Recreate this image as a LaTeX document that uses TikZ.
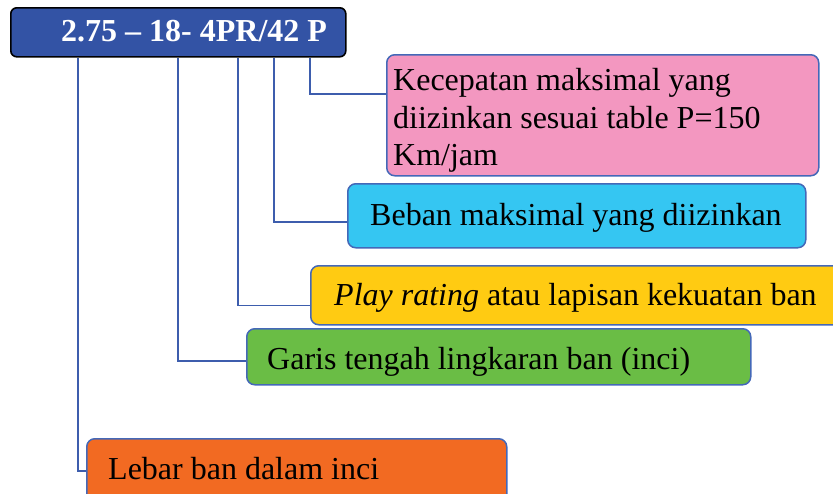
\documentclass[tikz,border=0pt]{standalone}
\usepackage{fontspec}
\setmainfont{Liberation Serif}
\definecolor{topfill}{RGB}{51,83,165}
\definecolor{pinkc}{RGB}{243,151,192}
\definecolor{skyc}{RGB}{53,198,242}
\definecolor{yellowc}{RGB}{255,203,18}
\definecolor{greenc}{RGB}{106,189,69}
\definecolor{orangec}{RGB}{242,106,34}
\definecolor{edgec}{RGB}{68,104,184}
\definecolor{connc}{RGB}{61,93,173}
\tikzset{
  box/.style={draw=edgec, line width=1.5pt, rounded corners=8pt, anchor=north west, inner sep=0pt},
  topbox/.style={draw=black, line width=1.6pt, rounded corners=6pt, fill=topfill, anchor=north west, inner sep=0pt},
  txt/.style={anchor=base west, inner sep=0pt, font=\fontsize{32}{37}\selectfont},
  conn/.style={draw=connc, line width=1.5pt},
}
\begin{document}
\begin{tikzpicture}[x=1pt,y=-1pt]
\useasboundingbox (0,0) rectangle (833,493);
\clip (0,0) rectangle (833,493);
% boxes
\node[topbox, minimum width=335pt, minimum height=49pt] (top) at (10,7) {};
\node[box, fill=pinkc, minimum width=432pt, minimum height=121pt] (pink) at (386,54) {};
\node[box, fill=skyc, minimum width=458pt, minimum height=64pt] (sky) at (347,183) {};
\node[box, fill=yellowc, minimum width=540pt, minimum height=59pt] (yellow) at (310,265) {};
\node[box, fill=greenc, minimum width=504pt, minimum height=56pt] (green) at (246,328) {};
\node[box, fill=orangec, minimum width=420pt, minimum height=64pt] (orange) at (86,438) {};
% texts
\node[txt, text=white, font=\fontsize{32}{37}\selectfont\bfseries] (toptext) at (61,41) {2.75 – 18- 4PR/42 P};
\node[txt] (p1) at (393,90.5) {Kecepatan maksimal yang};
\node[txt] (p2) at (393,128) {diizinkan sesuai table P=150};
\node[txt] (p3) at (393,165) {Km/jam};
\node[txt] (skytext) at (370,225) {Beban maksimal yang diizinkan};
\node[txt] (yellowtext) at (334,305) {\textit{Play rating} atau lapisan kekuatan ban};
\node[txt] (greentext) at (267,369) {Garis tengah lingkaran ban (inci)};
\node[txt] (orangetext) at (108,479) {Lebar ban dalam inci};
% connector x positions
\coordinate (x1) at (78,0);
\coordinate (x2) at (178,0);
\coordinate (x3) at (238,0);
\coordinate (x4) at (274,0);
\coordinate (x5) at (310,0);
\draw[conn] (top.south -| x1) |- (orange.west);
\draw[conn] (top.south -| x2) |- ([yshift=-4pt]green.west);
\draw[conn] (top.south -| x3) |- ([yshift=-10pt]yellow.west);
\draw[conn] (top.south -| x4) |- ([yshift=-6pt]sky.west);
\draw[conn] (top.south -| x5) |- ([yshift=21.5pt]pink.west);
\end{tikzpicture}
\end{document}
